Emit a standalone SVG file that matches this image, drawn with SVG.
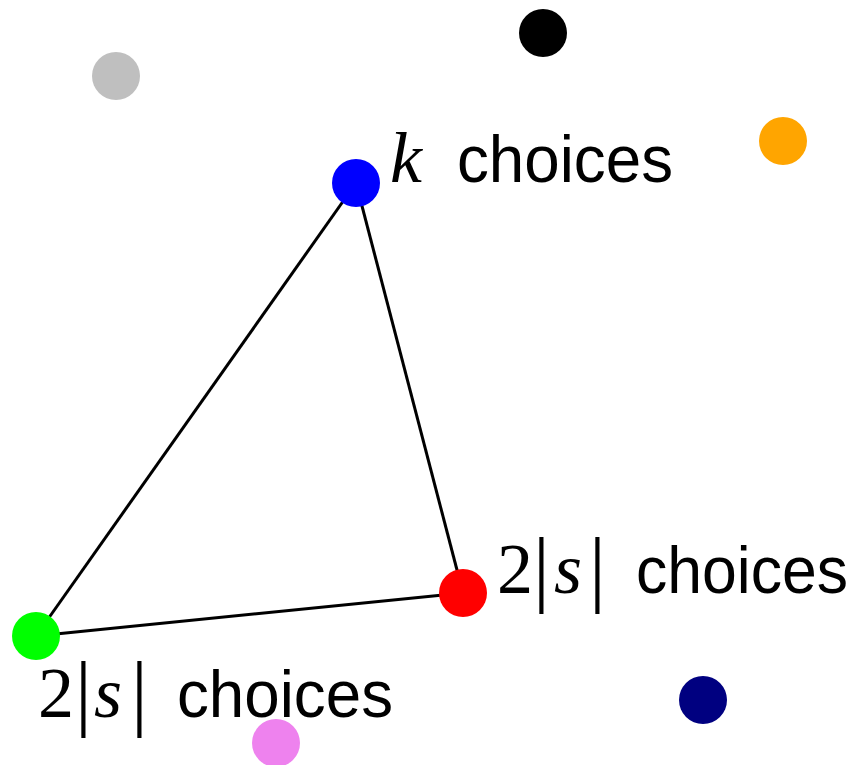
<svg xmlns="http://www.w3.org/2000/svg" width="856" height="765" viewBox="0 0 856 765">
<style>
.edge{stroke:#000;stroke-width:3;fill:none}
.m{font-family:"Liberation Serif","DejaVu Serif",serif;font-size:72px;fill:#000}
.it{font-style:italic}
.bar{font-family:"Liberation Serif","DejaVu Serif",serif;font-size:84px;fill:#000}
.s{font-family:"Liberation Sans","DejaVu Sans",sans-serif;font-size:66px;fill:#000}
</style>
<rect width="856" height="765" fill="#fff"/>
<g id="connectors">
<line class="edge" x1="356" y1="183" x2="36" y2="636"/>
<line class="edge" x1="356" y1="183" x2="463" y2="593"/>
<line class="edge" x1="463" y1="593" x2="36" y2="636"/>
</g>
<g id="n-gray"><circle cx="116" cy="76" r="24" fill="#bfbfbf"/></g>
<g id="n-black"><circle cx="543" cy="33" r="24" fill="#000"/></g>
<g id="n-orange"><circle cx="783" cy="141" r="24" fill="#ffa500"/></g>
<g id="n-blue"><circle cx="356" cy="183" r="24" fill="#0000ff"/>
<text class="m it" x="390" y="182">k</text>
<text class="s" x="457" y="182" textLength="216" lengthAdjust="spacingAndGlyphs">choices</text>
</g>
<g id="n-red"><circle cx="463" cy="593" r="24" fill="#ff0000"/>
<text class="m" x="497" y="593">2</text>
<text class="bar" x="533" y="596">|</text>
<text class="m it" x="554" y="593">s</text>
<text class="bar" x="589" y="596">|</text>
<text class="s" x="636" y="593" textLength="212" lengthAdjust="spacingAndGlyphs">choices</text>
</g>
<g id="n-green"><circle cx="36" cy="636" r="24" fill="#00ff00"/>
<text class="m" x="38" y="717">2</text>
<text class="bar" x="75" y="720">|</text>
<text class="m it" x="94" y="717">s</text>
<text class="bar" x="131" y="720">|</text>
<text class="s" x="177" y="717" textLength="216" lengthAdjust="spacingAndGlyphs">choices</text>
</g>
<g id="n-navy"><circle cx="703" cy="700" r="24" fill="#000080"/></g>
<g id="n-violet"><circle cx="276" cy="743" r="24" fill="#ee82ee"/></g>
</svg>
